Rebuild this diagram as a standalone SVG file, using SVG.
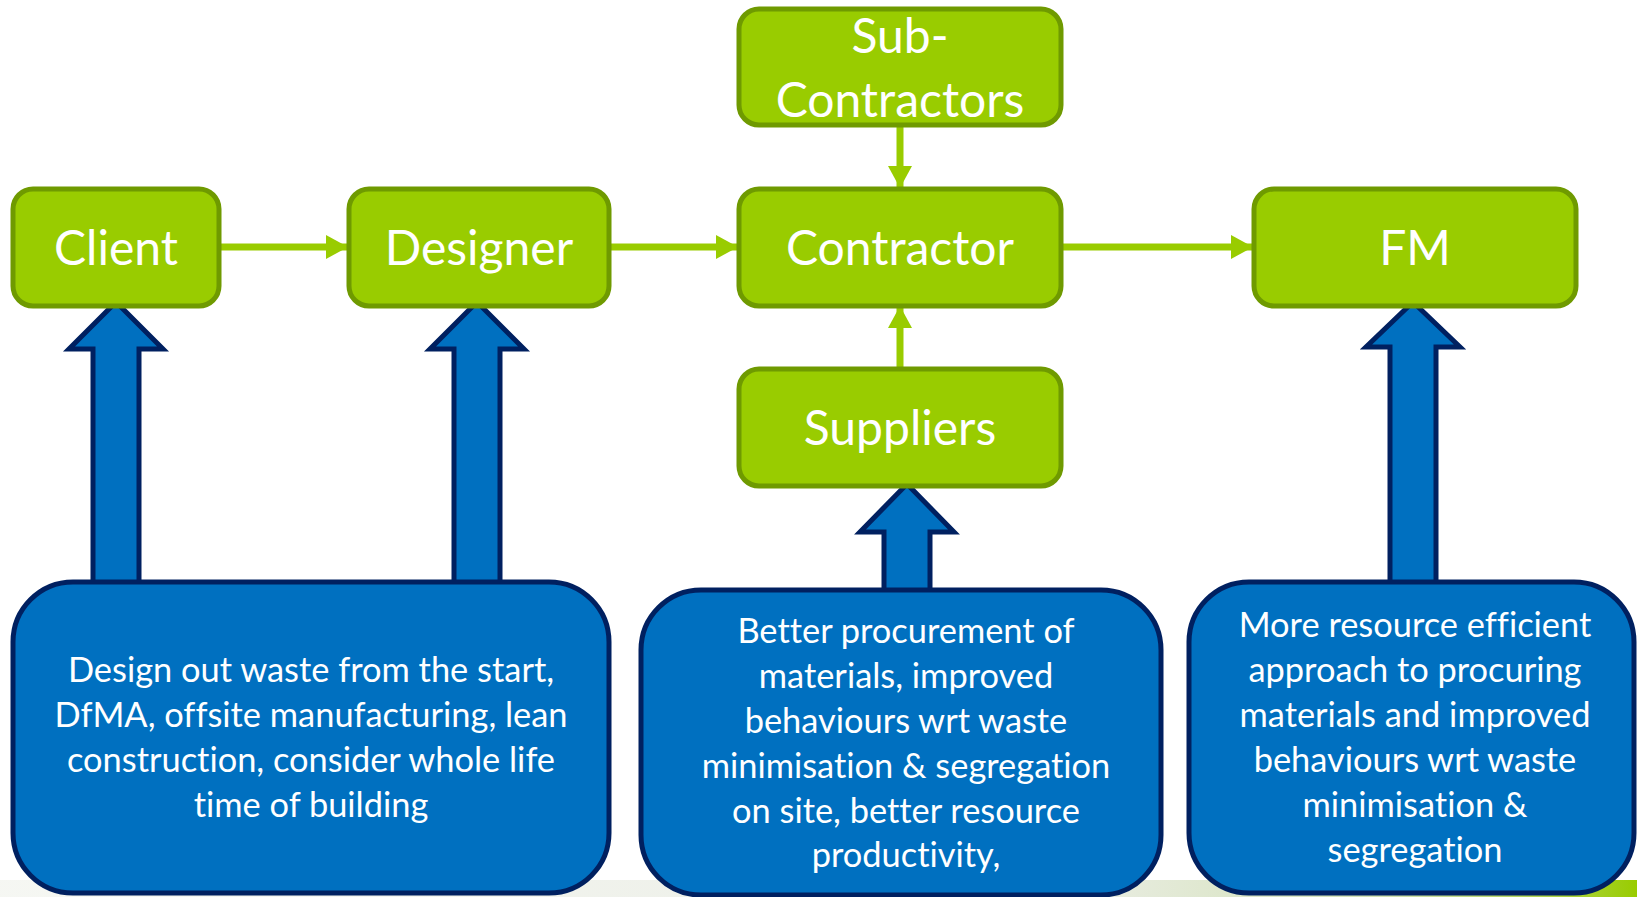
<svg xmlns="http://www.w3.org/2000/svg" width="1637" height="897" viewBox="0 0 1637 897">
  <defs>
    <style>
      .gbox { fill: #99cc00; stroke: #6f9a00; stroke-width: 5; }
      .gtxt { font-family: Lato, "Open Sans", "Liberation Sans", sans-serif; font-size: 48px; fill: #ffffff; text-anchor: middle; font-variant-ligatures: none; }
      .bbox { fill: #0070c0; stroke: #002060; stroke-width: 5; }
      .btxt { font-family: Lato, "Open Sans", "Liberation Sans", sans-serif; font-size: 34.4px; fill: #ffffff; text-anchor: middle; font-variant-ligatures: none; }
      .gline { stroke: #99cc00; stroke-width: 7; fill: none; }
      .barrow { fill: #0070c0; stroke: #002060; stroke-width: 5; stroke-linejoin: miter; }
    </style>
    <marker id="gh" viewBox="0 0 22 24" refX="22" refY="12" markerWidth="22" markerHeight="24" markerUnits="userSpaceOnUse" orient="auto">
      <path d="M0,0 L22,12 L0,24 Z" fill="#99cc00"/>
    </marker>
    <linearGradient id="bg" x1="0" y1="0" x2="1" y2="0">
      <stop offset="0" stop-color="#e4e8dc" stop-opacity="0.35"/>
      <stop offset="0.65" stop-color="#d6dccb" stop-opacity="0.5"/>
      <stop offset="0.85" stop-color="#b9d28a" stop-opacity="0.7"/>
      <stop offset="1" stop-color="#99cc00"/>
    </linearGradient>
  </defs>
  <rect x="0" y="0" width="1637" height="897" fill="#ffffff"/>
  <rect x="0" y="880" width="1637" height="17" fill="url(#bg)"/>

  <g id="connectors">
    <line class="gline" x1="221" y1="247" x2="348" y2="247" marker-end="url(#gh)"/>
    <line class="gline" x1="611" y1="247" x2="738" y2="247" marker-end="url(#gh)"/>
    <line class="gline" x1="1063" y1="247" x2="1253" y2="247" marker-end="url(#gh)"/>
    <line class="gline" x1="900" y1="127" x2="900" y2="188" marker-end="url(#gh)"/>
    <line class="gline" x1="900" y1="368" x2="900" y2="306" marker-end="url(#gh)"/>
    <path class="barrow" d="M116,302 L163,349 L139,349 L139,592 L93,592 L93,349 L69,349 Z"/>
    <path class="barrow" d="M477,302 L524,349 L500,349 L500,592 L454,592 L454,349 L430,349 Z"/>
    <path class="barrow" d="M907,484 L954,532 L930,532 L930,598 L884,598 L884,532 L860,532 Z"/>
    <path class="barrow" d="M1413,302 L1460,347 L1436,347 L1436,592 L1390,592 L1390,347 L1366,347 Z"/>
  </g>

  <g id="client">
    <rect class="gbox" x="13" y="189" width="206" height="117" rx="20"/>
    <text class="gtxt" x="116" y="265">Client</text>
  </g>
  <g id="designer">
    <rect class="gbox" x="349" y="189" width="260" height="117" rx="20"/>
    <text class="gtxt" x="479" y="265">Designer</text>
  </g>
  <g id="contractor">
    <rect class="gbox" x="739" y="189" width="322" height="117" rx="20"/>
    <text class="gtxt" x="900" y="265">Contractor</text>
  </g>
  <g id="fm">
    <rect class="gbox" x="1254" y="189" width="322" height="117" rx="20"/>
    <text class="gtxt" x="1415" y="265">FM</text>
  </g>
  <g id="subcontractors">
    <rect class="gbox" x="739" y="9" width="322" height="116" rx="20"/>
    <text class="gtxt" x="900" y="53">Sub-</text>
    <text class="gtxt" x="900" y="117">Contractors</text>
  </g>
  <g id="suppliers">
    <rect class="gbox" x="739" y="369" width="322" height="117" rx="20"/>
    <text class="gtxt" x="900" y="445">Suppliers</text>
  </g>

  <g id="design-note">
    <rect class="bbox" x="13" y="582" width="596" height="311" rx="60"/>
    <text class="btxt" x="311" y="682">Design out waste from the start,</text>
    <text class="btxt" x="311" y="727">DfMA, offsite manufacturing, lean</text>
    <text class="btxt" x="311" y="772">construction, consider whole life</text>
    <text class="btxt" x="311" y="817">time of building</text>
  </g>
  <g id="contractor-note">
    <rect class="bbox" x="641" y="590" width="520" height="305" rx="60"/>
    <text class="btxt" x="906" y="643">Better procurement of</text>
    <text class="btxt" x="906" y="688">materials, improved</text>
    <text class="btxt" x="906" y="733">behaviours wrt waste</text>
    <text class="btxt" x="906" y="778">minimisation &amp; segregation</text>
    <text class="btxt" x="906" y="823">on site, better resource</text>
    <text class="btxt" x="906" y="867">productivity,</text>
  </g>
  <g id="fm-note">
    <rect class="bbox" x="1189" y="582" width="445" height="311" rx="60"/>
    <text class="btxt" x="1415" y="637">More resource efficient</text>
    <text class="btxt" x="1415" y="682">approach to procuring</text>
    <text class="btxt" x="1415" y="727">materials and improved</text>
    <text class="btxt" x="1415" y="772">behaviours wrt waste</text>
    <text class="btxt" x="1415" y="817">minimisation &amp;</text>
    <text class="btxt" x="1415" y="862">segregation</text>
  </g>
</svg>
